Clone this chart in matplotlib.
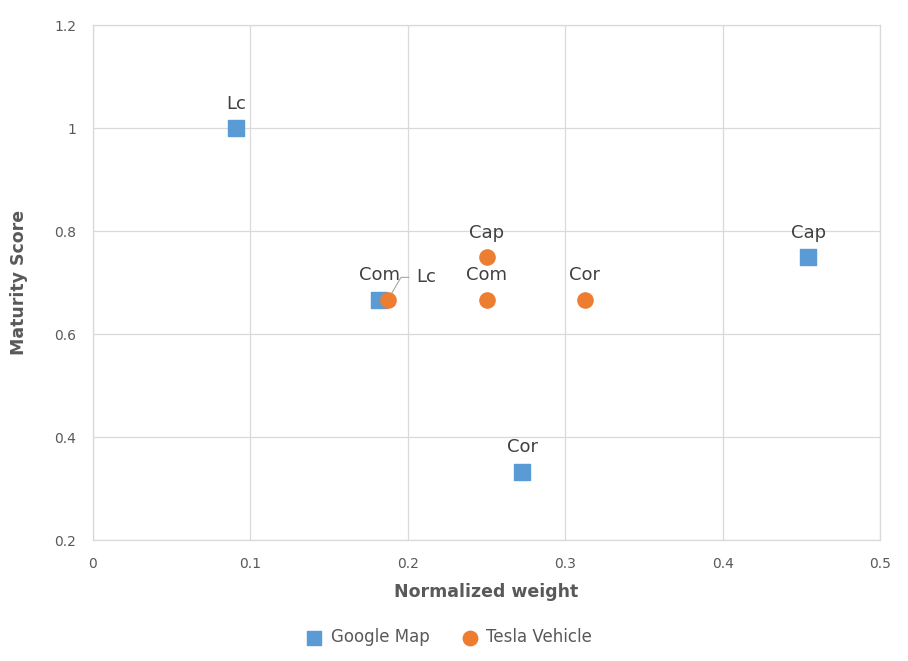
import matplotlib.pyplot as plt

# data
google_x = [0.0909, 0.1818, 0.2727, 0.4545]
google_y = [1.0, 0.667, 0.333, 0.75]
google_labels = ['Lc', 'Com', 'Cor', 'Cap']

tesla_x = [0.1875, 0.25, 0.25, 0.3125]
tesla_y = [0.667, 0.75, 0.667, 0.667]
tesla_labels = ['Lc', 'Cap', 'Com', 'Cor']

BLUE = '#5B9BD5'
ORANGE = '#ED7D31'
GRAY = '#595959'
GRID = '#D9D9D9'

plt.rcParams['font.family'] = ['DejaVu Sans']

fig = plt.figure(figsize=(9.08, 6.61), dpi=100)
ax = fig.add_axes([0.1024, 0.183, 0.8668, 0.779])

ax.scatter(google_x, google_y, marker='s', s=120, color=BLUE, label='Google Map', zorder=3)
ax.scatter(tesla_x, tesla_y, marker='o', s=120, color=ORANGE, label='Tesla Vehicle', zorder=4)

for x, y, t in zip(google_x, google_y, google_labels):
    ax.annotate(t, (x, y), xytext=(0, 11), textcoords='offset points',
                ha='center', va='bottom', fontsize=13, color='#404040')

for x, y, t in zip(tesla_x, tesla_y, tesla_labels):
    if t == 'Lc':
        # label pushed aside with a leader line
        ax.annotate(t, (x, y), xytext=(20, 16), textcoords='offset points',
                    ha='left', va='center', fontsize=13, color='#404040',
                    arrowprops=dict(arrowstyle='-', color='#A6A6A6', lw=0.8,
                                    shrinkA=3, shrinkB=0,
                                    connectionstyle='angle,angleA=0,angleB=60,rad=0'))
    else:
        ax.annotate(t, (x, y), xytext=(0, 11), textcoords='offset points',
                    ha='center', va='bottom', fontsize=13, color='#404040')

ax.set_xlim(0, 0.5)
ax.set_ylim(0.2, 1.2)
ax.set_xticks([0, 0.1, 0.2, 0.3, 0.4, 0.5])
ax.set_xticklabels(['0', '0.1', '0.2', '0.3', '0.4', '0.5'])
ax.set_yticks([0.2, 0.4, 0.6, 0.8, 1.0, 1.2])
ax.set_yticklabels(['0.2', '0.4', '0.6', '0.8', '1', '1.2'])
ax.tick_params(length=0, labelsize=10, labelcolor=GRAY, pad=12)
ax.grid(True, color=GRID, lw=0.9, zorder=0)
ax.set_axisbelow(True)
for sp in ax.spines.values():
    sp.set_color(GRID)
    sp.set_linewidth(0.9)

ax.set_xlabel('Normalized weight', fontsize=12.5, fontweight='bold', color=GRAY, labelpad=9)
ax.set_ylabel('Maturity Score', fontsize=12.5, fontweight='bold', color=GRAY, labelpad=19)

fig.legend(loc='center', bbox_to_anchor=(0.49, 0.036), ncol=2, frameon=False,
           fontsize=12, labelcolor=GRAY, handletextpad=0.0, columnspacing=1.4,
           markerscale=0.95)

fig.savefig('out.png', dpi=100)
